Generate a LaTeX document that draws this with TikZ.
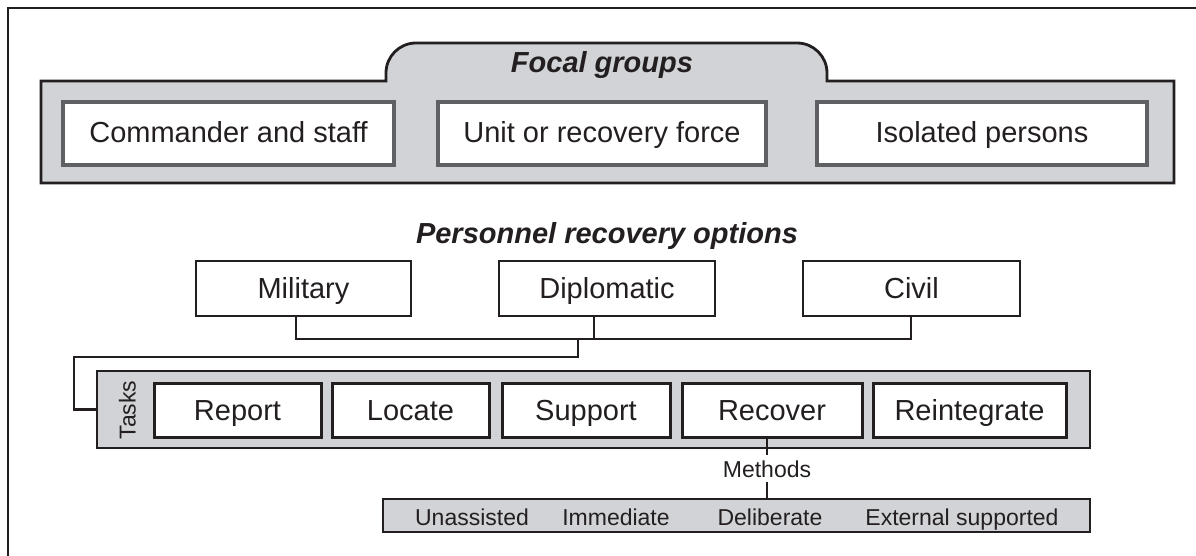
\documentclass[tikz,border=0pt]{standalone}
\usepackage{fontspec}
\setmainfont{Liberation Sans}
\definecolor{ink}{RGB}{35,31,32}
\definecolor{grpfill}{RGB}{209,211,214}
\definecolor{midgray}{RGB}{95,96,99}
\begin{document}
\begin{tikzpicture}[x=0.5pt,y=-0.5pt,
  every node/.style={text=ink},
  grp/.style={fill=grpfill, draw=ink, line width=1.4pt},
  gbar/.style={fill=grpfill, draw=ink, line width=1.4pt, inner sep=0pt},
  big/.style={font=\fontsize{14.5}{17}\selectfont},
  fbox/.style={big, fill=white, draw=midgray, line width=1.6pt, inner sep=0pt, text height=11.5pt, text depth=2pt},
  obox/.style={big, fill=white, draw=ink, line width=1.3pt, inner sep=0pt, text height=12.5pt, text depth=2pt},
  tbox/.style={big, fill=white, draw=ink, line width=1.5pt, inner sep=0pt, text height=12.5pt, text depth=2pt},
  conn/.style={draw=ink, line width=1.2pt},
  head/.style={font=\fontsize{14.5}{17}\selectfont\bfseries\itshape, inner sep=0pt, anchor=base},
  small/.style={font=\fontsize{11.5}{13}\selectfont, inner sep=0pt},
  sz/.style 2 args={minimum width=#1*0.5pt, minimum height=#2*0.5pt}]
\useasboundingbox (0,0) rectangle (1196,556);
% outer frame
\draw[ink, line width=1.2pt] (8,556) -- (8,8) -- (1196,8);
% focal groups container
\draw[grp] (41,183) -- (41,81) -- (386,81) -- (386,73)
  .. controls (386,56.4) and (399.4,43) .. (416,43) -- (797,43)
  .. controls (813.6,43) and (827,56.4) .. (827,73) -- (827,81)
  -- (1174,81) -- (1174,183) -- cycle;
\node[head] (ftitle) at (602,73) {Focal groups};
\node[fbox, sz={331}{63}] (fa) at (228.5,133.5) {Commander and staff};
\node[fbox, sz={328}{63}] (fb) at (602,133.5) {Unit or recovery force};
\node[fbox, sz={330}{63}] (fc) at (982,133.5) {Isolated persons};
% options
\node[head] (otitle) at (607,243) {Personnel recovery options};
\node[obox, sz={215}{55}] (mil) at (303.5,288.5) {Military};
\node[obox, sz={216}{55}] (dip) at (607,288.5) {Diplomatic};
\node[obox, sz={217}{55}] (civ) at (911.5,288.5) {Civil};
\coordinate (busL) at (296,339);
\coordinate (busR) at (911,339);
\coordinate (busD) at (594,339);
\coordinate (j1) at (578,339);
\coordinate (j2) at (74,357);
\draw[conn] (mil.south -| busL) -- (busL) -- (busR) -- (civ.south -| busR);
\draw[conn] (dip.south -| busD) -- (busD);
% tasks
\node[gbar, sz={993}{77}] (tasks) at (593.5,409.5) {};
\draw[conn] (j1) |- (j2) |- (tasks.west);
\node[small, rotate=90] (tlabel) at (127.5,410) {Tasks};
\node[tbox, sz={167}{54}] (rep) at (237.5,410.5) {Report};
\node[tbox, sz={157}{54}] (loc) at (410.5,410.5) {Locate};
\node[tbox, sz={168}{54}] (sup) at (586,410.5) {Support};
\node[tbox, sz={180}{54}] (rec) at (772,410.5) {Recover};
\node[tbox, sz={193}{54}] (rei) at (969.5,410.5) {Reintegrate};
% methods
\node[gbar, sz={707}{33}] (mbar) at (736.5,515.5) {};
\coordinate (mcon) at (767,0);
\draw[conn] (rec.south -| mcon) -- (mbar.north -| mcon);
\node[small, fill=white, inner ysep=2.5pt, inner xsep=1pt, anchor=base] (meth) at (767,477) {Methods};
\node[small, anchor=base] (m1) at (472,525) {Unassisted};
\node[small, anchor=base] (m2) at (616,525) {Immediate};
\node[small, anchor=base] (m3) at (770,525) {Deliberate};
\node[small, anchor=base] (m4) at (962,525) {External supported};
\end{tikzpicture}
\end{document}
